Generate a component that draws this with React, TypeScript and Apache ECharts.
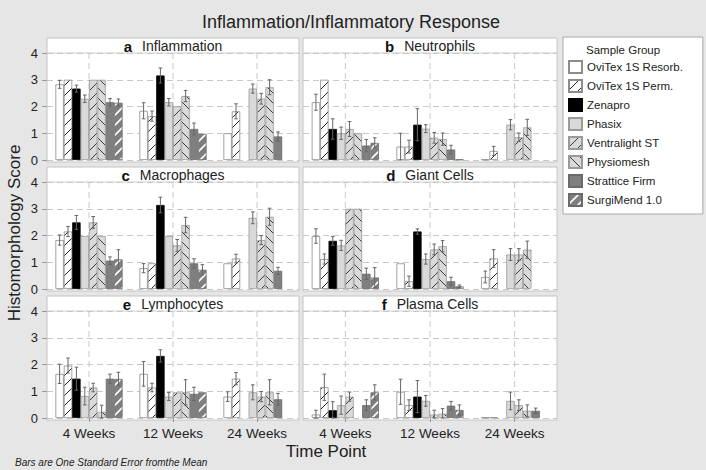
import React, { useEffect, useRef } from 'react';
import * as echarts from 'echarts';

const timePoints = ['4 Weeks', '12 Weeks', '24 Weeks'];
const groups = ['OviTex 1S Resorb.', 'OviTex 1S Perm.', 'Zenapro', 'Phasix', 'Ventralight ST', 'Physiomesh', 'Strattice Firm', 'SurgiMend 1.0'];
const yTicks = [0, 1, 2, 3, 4];
const panelLetters = ['a', 'b', 'c', 'd', 'e', 'f'];
const panelNames = ['Inflammation', 'Neutrophils', 'Macrophages', 'Giant Cells', 'Lymphocytes', 'Plasma Cells'];

// [group][timepoint]; 0 = no bar drawn
const inflammationMean = [
  [2.83, 1.84, 1.0], [3.0, 1.64, 1.82], [2.67, 3.16, 0], [2.29, 2.16, 2.67],
  [3.0, 2.01, 2.29], [3.0, 2.39, 2.72], [2.16, 1.16, 0.88], [2.14, 0.98, 0],
];
const inflammationErr = [
  [0.15, 0.3, 0], [0, 0.19, 0.28], [0.13, 0.28, 0], [0.14, 0.14, 0.17],
  [0, 0, 0.2], [0, 0.21, 0.28], [0.14, 0.22, 0.17], [0.14, 0, 0],
];
const neutrophilsMean = [
  [2.16, 0.5, 0.02], [3.0, 0.5, 0.34], [1.16, 1.32, 0], [1.0, 1.17, 1.32],
  [1.16, 0.83, 0.85], [1.0, 0.78, 1.22], [0.54, 0.39, 0], [0.64, 0.02, 0],
];
const neutrophilsErr = [
  [0.3, 0.5, 0], [0, 0.24, 0.17], [0.38, 0.6, 0], [0.23, 0.15, 0.19],
  [0.28, 0.2, 0.16], [0, 0.23, 0.3], [0.23, 0.16, 0], [0.19, 0, 0],
];
const macrophagesMean = [
  [1.83, 0.78, 0.96], [2.15, 0.96, 1.14], [2.49, 3.14, 0], [1.98, 1.98, 2.66],
  [2.49, 1.63, 1.83], [1.98, 2.39, 2.7], [1.06, 0.96, 0.68], [1.11, 0.72, 0],
];
const macrophagesErr = [
  [0.19, 0.17, 0], [0.19, 0, 0.16], [0.26, 0.29, 0], [0, 0, 0.22],
  [0.22, 0.22, 0.17], [0, 0.29, 0.32], [0.14, 0.17, 0.13], [0.36, 0.19, 0],
];
const giantCellsMean = [
  [1.98, 0.96, 0.45], [1.12, 0.29, 1.14], [1.8, 2.15, 0], [1.63, 1.12, 1.29],
  [3.0, 1.48, 1.29], [3.0, 1.6, 1.47], [0.57, 0.29, 0], [0.43, 0.1, 0],
];
const giantCellsErr = [
  [0.27, 0, 0.22], [0.19, 0.19, 0.33], [0.16, 0.1, 0], [0.19, 0.19, 0.22],
  [0, 0.2, 0.22], [0, 0.21, 0.32], [0.21, 0.15, 0], [0.37, 0.05, 0],
];
const lymphocytesMean = [
  [1.65, 1.65, 0.8], [1.96, 1.14, 1.47], [1.47, 2.32, 0], [0.82, 0.8, 0.96],
  [1.14, 0.96, 0.8], [0.23, 0.96, 0.96], [1.47, 0.9, 0.7], [1.46, 0.96, 0],
];
const lymphocytesErr = [
  [0.36, 0.46, 0.18], [0.28, 0.16, 0.23], [0.43, 0.23, 0], [0.33, 0.15, 0.28],
  [0.16, 0, 0.19], [0.25, 0.47, 0.47], [0.17, 0.25, 0.22], [0.25, 0, 0],
];
const plasmaCellsMean = [
  [0.13, 0.98, 0.02], [1.15, 0.48, 0.02], [0.29, 0.8, 0], [0.48, 0.64, 0.64],
  [0.8, 0.13, 0.48], [0, 0.16, 0.27], [0.48, 0.46, 0.27], [0.96, 0.3, 0],
];
const plasmaCellsErr = [
  [0.16, 0.47, 0], [0.49, 0.2, 0], [0.32, 0.6, 0], [0.34, 0.2, 0.33],
  [0.17, 0.16, 0.2], [0, 0.19, 0.22], [0.2, 0.16, 0.1], [0.28, 0.19, 0],
];

const allMeans = [inflammationMean, neutrophilsMean, macrophagesMean, giantCellsMean, lymphocytesMean, plasmaCellsMean];
const allErrs = [inflammationErr, neutrophilsErr, macrophagesErr, giantCellsErr, lymphocytesErr, plasmaCellsErr];

const FONT = "'Liberation Sans', Arial, Helvetica, sans-serif";
const BW = 8.4;
const COLS = [{ x: 47, w: 252 }, { x: 303, w: 254 }];
const STRIP_TOP = [38, 167, 296];
const PLOT_TOP = [53, 182, 311];
const PLOT_H = 107;

function hatch(bg: string, fg: string, dir: string, lw: number, size = 10) {
  const c = document.createElement('canvas');
  c.width = size;
  c.height = size;
  const g = c.getContext('2d')!;
  g.fillStyle = bg;
  g.fillRect(0, 0, size, size);
  g.strokeStyle = fg;
  g.lineWidth = lw;
  g.beginPath();
  if (dir === '/') {
    g.moveTo(-1, size + 1); g.lineTo(size + 1, -1);
    g.moveTo(-1, 1); g.lineTo(1, -1);
    g.moveTo(size - 1, size + 1); g.lineTo(size + 1, size - 1);
  } else {
    g.moveTo(-1, -1); g.lineTo(size + 1, size + 1);
    g.moveTo(size - 1, -1); g.lineTo(size + 1, 1);
    g.moveTo(-1, size - 1); g.lineTo(1, size + 1);
  }
  g.stroke();
  return { image: c, repeat: 'repeat' };
}

export default function App() {
  const ref = useRef<HTMLDivElement>(null);
  useEffect(() => {
    const chart = echarts.init(ref.current!, null, { renderer: 'svg' });
    const styles: any[] = [
      { color: '#ffffff', borderColor: '#8c8c8c', borderWidth: 0.8 },
      { color: hatch('#ffffff', '#222222', '/', 1), borderColor: '#8c8c8c', borderWidth: 0.8 },
      { color: '#000000', borderColor: '#000000', borderWidth: 0.8 },
      { color: '#d9d9d9', borderColor: '#9a9a9a', borderWidth: 0.8 },
      { color: hatch('#d9d9d9', '#3a3a3a', '/', 1), borderColor: '#9a9a9a', borderWidth: 0.8 },
      { color: hatch('#d9d9d9', '#3a3a3a', '\\', 1), borderColor: '#9a9a9a', borderWidth: 0.8 },
      { color: '#7f7f7f', borderColor: '#6a6a6a', borderWidth: 0.8 },
      { color: hatch('#7f7f7f', '#ffffff', '/', 1.6), borderColor: '#6a6a6a', borderWidth: 0.8 },
    ];

    const grid: any[] = [];
    const xAxis: any[] = [];
    const yAxis: any[] = [];
    const series: any[] = [];
    const graphic: any[] = [];
    const dash = [6, 4];

    for (let p = 0; p < 6; p++) {
      const row = Math.floor(p / 2);
      const col = p % 2;
      const C = COLS[col];
      grid.push({ left: C.x, top: PLOT_TOP[row], width: C.w, height: PLOT_H });
      xAxis.push({
        type: 'category', gridIndex: p, data: timePoints,
        axisLine: { show: false },
        axisTick: { show: row === 2, alignWithLabel: true, length: 4, lineStyle: { color: '#999' } },
        axisLabel: { show: row === 2, fontSize: 13.5, color: '#222', fontFamily: FONT, margin: 8 },
        splitLine: { show: false },
      });
      yAxis.push({
        type: 'value', gridIndex: p, min: yTicks[0], max: yTicks[yTicks.length - 1], interval: 1,
        axisLine: { show: false },
        axisTick: { show: col === 0, length: 5, lineStyle: { color: '#999' } },
        axisLabel: { show: col === 0, fontSize: 13, color: '#222', fontFamily: FONT, margin: 9 },
        splitLine: { show: true, lineStyle: { color: '#c8c8c8', type: dash, width: 1 } },
      });
      series.push({
        type: 'custom', name: 'vgrid' + p, xAxisIndex: p, yAxisIndex: p, z: 1, silent: true,
        encode: { x: 0, y: 1 },
        data: timePoints.map((_, i) => [i, 0]),
        renderItem: (params: any, api: any) => {
          const x = api.coord([api.value(0), 0])[0];
          const cs = params.coordSys;
          return {
            type: 'line',
            shape: { x1: x, y1: cs.y, x2: x, y2: cs.y + cs.height },
            style: { stroke: '#c8c8c8', lineWidth: 1, lineDash: dash },
          };
        },
      });
      const means = allMeans[p];
      const errs = allErrs[p];
      for (let s = 0; s < groups.length; s++) {
        series.push({
          type: 'bar', name: groups[s], xAxisIndex: p, yAxisIndex: p,
          data: means[s].map((v) => (v === 0 ? '-' : v)), barWidth: BW, barGap: '0%', z: 2,
          itemStyle: styles[s], silent: true,
        });
      }
      const errData: number[][] = [];
      for (let s = 0; s < groups.length; s++) {
        for (let t = 0; t < timePoints.length; t++) {
          if (errs[s][t] > 0) errData.push([t, s, means[s][t], errs[s][t]]);
        }
      }
      series.push({
        type: 'custom', name: 'err' + p, xAxisIndex: p, yAxisIndex: p, z: 3, silent: true,
        encode: { x: 0, y: 2 },
        data: errData,
        renderItem: (params: any, api: any) => {
          const t = api.value(0), s = api.value(1), m = api.value(2), e = api.value(3);
          const x = api.coord([t, m])[0] + (s - 3.5) * BW;
          const y1 = api.coord([t, m + e])[1];
          const y2 = api.coord([t, Math.max(0, m - e)])[1];
          const st = { stroke: '#666', lineWidth: 1 };
          return {
            type: 'group',
            children: [
              { type: 'line', shape: { x1: x, y1, x2: x, y2 }, style: st },
              { type: 'line', shape: { x1: x - 1.8, y1, x2: x + 1.8, y2: y1 }, style: st },
              { type: 'line', shape: { x1: x - 1.8, y1: y2, x2: x + 1.8, y2 }, style: st },
            ],
          };
        },
      });
      graphic.push({
        type: 'rect', z: -10, silent: true,
        shape: { x: C.x, y: STRIP_TOP[row], width: C.w, height: PLOT_TOP[row] + PLOT_H + 2 - STRIP_TOP[row] },
        style: { fill: '#ffffff', stroke: '#c4c4c4', lineWidth: 1 },
      });
      graphic.push({
        type: 'line', z: -9, silent: true,
        shape: { x1: C.x, y1: PLOT_TOP[row], x2: C.x + C.w, y2: PLOT_TOP[row] },
        style: { stroke: '#cfcfcf', lineWidth: 1 },
      });
      graphic.push({
        type: 'text', z: 100, silent: true,
        x: C.x + C.w / 2, y: (STRIP_TOP[row] + PLOT_TOP[row]) / 2 + 0.5,
        style: {
          text: '{b|' + panelLetters[p] + '}   {n|' + panelNames[p] + '}',
          align: 'center', verticalAlign: 'middle',
          rich: {
            b: { fontWeight: 'bold', fontSize: 15, fontFamily: FONT, fill: '#111' },
            n: { fontSize: 14, fontFamily: FONT, fill: '#222' },
          },
        },
      });
    }

    graphic.push(
      {
        type: 'text', z: 100, silent: true, x: 351, y: 22,
        style: { text: 'Inflammation/Inflammatory Response', fontSize: 18, fontFamily: FONT, fill: '#222', align: 'center', verticalAlign: 'middle' },
      },
      {
        type: 'text', z: 100, silent: true, x: 14, y: 233, rotation: Math.PI / 2,
        style: { text: 'Histomorphology Score', fontSize: 17, fontFamily: FONT, fill: '#222', align: 'center', verticalAlign: 'middle' },
      },
      {
        type: 'text', z: 100, silent: true, x: 326, y: 451,
        style: { text: 'Time Point', fontSize: 17, fontFamily: FONT, fill: '#222', align: 'center', verticalAlign: 'middle' },
      },
      {
        type: 'text', z: 100, silent: true, x: 15, y: 462,
        style: { text: 'Bars are One Standard Error fromthe Mean', fontSize: 10, fontStyle: 'italic', fontFamily: FONT, fill: '#222', align: 'left', verticalAlign: 'middle' },
      },
      {
        type: 'text', z: 100, silent: true, x: 586, y: 50,
        style: { text: 'Sample Group', fontSize: 11.5, fontFamily: FONT, fill: '#222', align: 'left', verticalAlign: 'middle' },
      },
    );

    chart.setOption({
      animation: false,
      backgroundColor: '#e6e6e6',
      textStyle: { fontFamily: FONT },
      grid, xAxis, yAxis, series, graphic,
      legend: {
        data: groups,
        orient: 'vertical',
        left: 563, top: 37,
        padding: [23, 20, 7, 5],
        itemWidth: 13, itemHeight: 12, itemGap: 5,
        icon: 'rect',
        backgroundColor: '#ffffff',
        borderColor: '#aaaaaa', borderWidth: 1,
        selectedMode: false,
        textStyle: { fontSize: 11.5, color: '#222', fontFamily: FONT },
      },
    });
    return () => chart.dispose();
  }, []);
  return <div ref={ref} style={{ position: 'absolute', left: 0, top: 0, width: 706, height: 470 }} />;
}
